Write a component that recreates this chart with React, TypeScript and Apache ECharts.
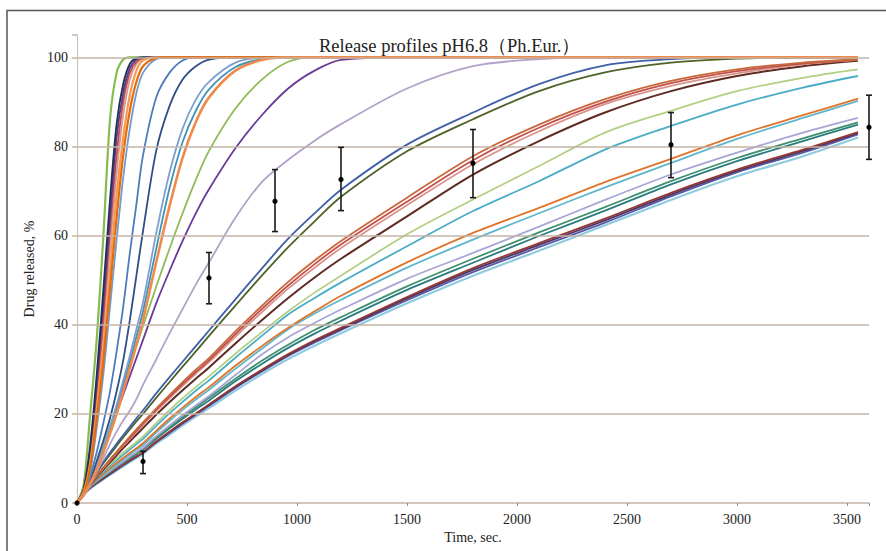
import React, { useEffect, useRef } from "react";
import * as echarts from "echarts";

// Time grid (sec.)
const T = [0, 30, 60, 90, 120, 150, 180, 210, 240, 270, 300, 360, 420, 480, 540, 600, 720, 840, 960, 1080, 1200, 1500, 1800, 2100, 2400, 2700, 3000, 3300, 3550];

// Release profiles (% released at each time of T)
const G1 = [0, 4, 20, 37, 60, 86, 96.5, 99.5, 100, 100, 100, 100, 100, 100, 100, 100, 100, 100, 100, 100, 100, 100, 100, 100, 100, 100, 100, 100, 100];
const C1 = [0, 3, 13, 29, 48, 68, 85, 94, 98.5, 99.8, 100, 100, 100, 100, 100, 100, 100, 100, 100, 100, 100, 100, 100, 100, 100, 100, 100, 100, 100];
const C2 = [0, 3, 12, 27, 45, 64, 82, 92, 97.5, 99.5, 100, 100, 100, 100, 100, 100, 100, 100, 100, 100, 100, 100, 100, 100, 100, 100, 100, 100, 100];
const C3 = [0, 3, 11, 25, 42, 61, 78, 90, 96.5, 99, 99.8, 100, 100, 100, 100, 100, 100, 100, 100, 100, 100, 100, 100, 100, 100, 100, 100, 100, 100];
const C4 = [0, 2.5, 10, 23, 39, 57, 74, 87, 95, 98.5, 99.7, 100, 100, 100, 100, 100, 100, 100, 100, 100, 100, 100, 100, 100, 100, 100, 100, 100, 100];
const C5 = [0, 2.5, 9, 21, 35, 52, 69, 82, 91.5, 97, 99.3, 100, 100, 100, 100, 100, 100, 100, 100, 100, 100, 100, 100, 100, 100, 100, 100, 100, 100];
const C6 = [0, 2, 8, 19, 32, 48, 64, 78, 88, 94.5, 98, 99.8, 100, 100, 100, 100, 100, 100, 100, 100, 100, 100, 100, 100, 100, 100, 100, 100, 100];
const C7 = [0, 2, 7, 17, 29, 44, 59, 73, 84, 92, 96.5, 99.6, 100, 100, 100, 100, 100, 100, 100, 100, 100, 100, 100, 100, 100, 100, 100, 100, 100];
const B1 = [0, 2, 6, 11.5, 18, 25, 34, 44, 56, 67, 78, 91, 96.5, 99.3, 100, 100, 100, 100, 100, 100, 100, 100, 100, 100, 100, 100, 100, 100, 100];
const B2 = [0, 2, 5, 9.5, 14, 19, 25, 32, 41, 51, 61, 79, 89, 95, 98, 99.5, 100, 100, 100, 100, 100, 100, 100, 100, 100, 100, 100, 100, 100];
const B3 = [0, 2, 4.8, 8.5, 12.5, 17, 22, 27.5, 33, 39, 45, 60.5, 74, 84, 90.5, 94.5, 98.8, 99.9, 100, 100, 100, 100, 100, 100, 100, 100, 100, 100, 100];
const B4 = [0, 2, 4.6, 8, 12, 16.3, 21, 26.3, 31.7, 37.3, 43, 57, 70.5, 81, 88, 92.8, 97.8, 99.6, 100, 100, 100, 100, 100, 100, 100, 100, 100, 100, 100];
const O3 = [0, 1.9, 4.4, 7.6, 11.4, 15.5, 20, 25, 30.2, 35.5, 41, 54, 66.5, 77.5, 85.5, 91, 97, 99.4, 100, 100, 100, 100, 100, 100, 100, 100, 100, 100, 100];
const G2 = [0, 2.3, 5.3, 9, 13, 17.3, 21.7, 26.2, 30.7, 35.2, 39.7, 48.5, 57, 65, 72.5, 79, 88.5, 95, 99, 100, 100, 100, 100, 100, 100, 100, 100, 100, 100];
const P1 = [0, 2.2, 5, 8.6, 12.3, 16.2, 20.2, 24.3, 28.4, 32.5, 36.6, 44.8, 52, 58.8, 65, 70.4, 79.6, 87, 93, 97, 99.4, 100, 100, 100, 100, 100, 100, 100, 100];
const M1 = [0, 1.5, 4, 7, 10, 13.2, 16, 18.5, 20.7, 23.3, 26.5, 32.2, 38, 43.5, 49, 54, 64, 72, 77, 81.3, 85, 93, 98, 99.6, 100, 100, 100, 100, 100];
const BL = [0, 2.4, 4.8, 7, 9.2, 11.3, 13.3, 15.2, 17.1, 19, 20.8, 24.6, 28.2, 31.7, 35.2, 38.7, 45.7, 52.6, 59.3, 65, 70.3, 80.4, 87.6, 94, 98.2, 99.6, 100, 100, 100];
const DG = [0, 2.3, 4.6, 6.8, 8.9, 10.9, 12.8, 14.7, 16.5, 18.3, 20, 23.6, 27.1, 30.6, 34, 37.5, 44.3, 51, 57.4, 63.2, 68.7, 78.9, 86.1, 92.4, 96.6, 98.8, 99.7, 100, 100];
const BR1 = [0, 2.2, 4.3, 6.2, 8, 9.8, 11.5, 13.2, 14.9, 16.5, 18.1, 21.2, 24.2, 27.1, 29.9, 32.5, 38.5, 44.2, 49.6, 54.4, 58.8, 68.5, 77.8, 84.9, 90.6, 94.7, 97.3, 98.8, 99.5];
const BR4 = [0, 2.1, 4.2, 6.1, 7.9, 9.6, 11.3, 13, 14.6, 16.2, 17.8, 20.9, 23.8, 26.7, 29.4, 32, 37.9, 43.5, 48.8, 53.6, 58, 67.6, 76.9, 84.2, 90, 94.2, 96.9, 98.6, 99.5];
const BR2 = [0, 2.1, 4.2, 6, 7.8, 9.5, 11.2, 12.8, 14.4, 16, 17.5, 20.6, 23.5, 26.3, 29, 31.6, 37.3, 42.8, 48.1, 52.8, 57.2, 66.8, 76, 83.4, 89.5, 93.6, 96.4, 98.4, 99.4];
const BR3 = [0, 2, 4, 5.8, 7.5, 9.1, 10.7, 12.3, 13.8, 15.3, 16.8, 19.8, 22.6, 25.3, 27.9, 30.4, 35.8, 41, 46, 50.6, 54.8, 64.3, 73.7, 81.2, 87.6, 92.4, 95.8, 98, 99.2];
const LG = [0, 2.1, 4.1, 5.8, 7.3, 8.7, 10, 11.3, 12.5, 13.7, 14.9, 17.9, 20.8, 23.5, 26, 28.4, 33.5, 38.3, 43, 47.2, 51, 60.3, 68.1, 75.6, 83.1, 88, 92.4, 95.4, 97.3];
const T1 = [0, 2.1, 4, 5.6, 7, 8.3, 9.6, 10.8, 12, 13.2, 14.4, 17.3, 20.1, 22.7, 25.2, 27.5, 32.6, 37.5, 42.3, 46, 49.5, 57.6, 65.5, 72.2, 79.3, 84.6, 89.4, 93.2, 95.8];
const OL = [0, 2, 3.9, 5.3, 6.6, 7.8, 9, 10.1, 11.2, 12.3, 13.4, 16.2, 18.9, 21.4, 23.8, 26, 30.8, 35.2, 39.3, 43, 46.5, 54, 60.6, 66.2, 72, 77.2, 82.5, 87, 90.7];
const T2 = [0, 2, 3.8, 5.2, 6.4, 7.6, 8.7, 9.8, 10.9, 12, 13, 15.8, 18.4, 20.9, 23.2, 25.4, 30.1, 34.6, 39, 42.5, 45.6, 52.8, 59.1, 65, 70.8, 76.3, 81.7, 86.4, 90.2];
const LV = [0, 2, 3.7, 5, 6.1, 7.2, 8.3, 9.3, 10.4, 11.4, 12.4, 15, 17.4, 19.7, 21.9, 24, 28.7, 33.3, 37.2, 40.4, 43.4, 50.3, 56.1, 62, 68, 73.7, 78.6, 83.1, 86.4];
const DT2 = [0, 2, 3.6, 4.9, 6, 7.1, 8.2, 9.2, 10.2, 11.2, 12.2, 14.7, 17, 19.3, 21.5, 23.6, 27.9, 31.9, 35.5, 38.8, 41.7, 48.6, 54.8, 60.7, 66.4, 72.2, 77.4, 81.8, 85.4];
const DT = [0, 2, 3.6, 4.8, 5.9, 6.9, 8, 9, 10, 11, 12, 14.4, 16.7, 18.9, 21, 23, 27.3, 31.2, 34.8, 38, 40.9, 47.8, 53.9, 59.9, 65.6, 71.5, 76.7, 81.2, 84.9];
const MR = [0, 1.9, 3.5, 4.6, 5.6, 6.6, 7.6, 8.6, 9.6, 10.5, 11.4, 13.8, 16, 18.1, 20.1, 22.1, 26.2, 29.9, 33.4, 36.5, 39.3, 46.2, 52.7, 58.3, 63.8, 69.6, 74.8, 79.3, 83.2];
const DP = [0, 1.9, 3.4, 4.5, 5.5, 6.5, 7.5, 8.5, 9.5, 10.4, 11.3, 13.7, 15.9, 18, 20, 22, 26, 29.7, 33.2, 36.3, 39, 45.9, 52.3, 57.9, 63.4, 69.2, 74.5, 79, 83];
const PB = [0, 1.9, 3.4, 4.5, 5.5, 6.5, 7.5, 8.5, 9.5, 10.4, 11.3, 13.6, 15.7, 17.8, 19.8, 21.8, 25.8, 29.5, 33, 36, 38.8, 45.5, 51.8, 57.4, 62.9, 68.8, 74.2, 78.6, 82.7];
const LB = [0, 1.8, 3.2, 4.3, 5.3, 6.3, 7.3, 8.2, 9.2, 10.1, 11, 13.3, 15.3, 17.4, 19.4, 21.3, 25.2, 28.9, 32.3, 35.3, 38.1, 44.8, 51, 56.6, 62.3, 68, 73.3, 77.8, 82];

// Mean ± range markers
const EB_T = [0, 300, 600, 900, 1200, 1800, 2700, 3600];
const EB_MEAN = [0, 9.3, 50.5, 67.7, 72.6, 76.2, 80.4, 84.3];
const EB_LOW = [0, 6.6, 44.7, 60.9, 65.6, 68.5, 73.0, 77.1];
const EB_HIGH = [0, 11.6, 56.2, 74.8, 79.8, 83.8, 87.6, 91.5];

const GRID_VALUES = [20, 40, 60, 80, 100];
const X_MAX = 3600;
const Y_MAX = 105;

const CURVES: { d: number[]; c: string; w?: number }[] = [
  { d: G1, c: "#86bb50", w: 2.2 },
  { d: LB, c: "#8fcbe0", w: 2.2 },
  { d: PB, c: "#5a5aa8" },
  { d: DP, c: "#4a3565" },
  { d: MR, c: "#953735" },
  { d: DT, c: "#2a7d7e" },
  { d: DT2, c: "#3f8f70" },
  { d: LV, c: "#a8a6d6" },
  { d: T2, c: "#5fb6cc" },
  { d: OL, c: "#e0742a" },
  { d: T1, c: "#4bacc6" },
  { d: LG, c: "#b3cf84" },
  { d: BR3, c: "#5e2a22", w: 2 },
  { d: BR2, c: "#d9948a" },
  { d: BR4, c: "#c0504d" },
  { d: BR1, c: "#c8683a" },
  { d: DG, c: "#4f6228" },
  { d: BL, c: "#3f5fa8" },
  { d: M1, c: "#b3a2c7" },
  { d: P1, c: "#6a3a98" },
  { d: G2, c: "#8fbb56" },
  { d: B4, c: "#3f93b8" },
  { d: B3, c: "#7c9fcf" },
  { d: B2, c: "#2e4f86" },
  { d: B1, c: "#4f7bbd" },
  { d: C7, c: "#6f9ad2" },
  { d: C4, c: "#d99694" },
  { d: C3, c: "#c0504d" },
  { d: C2, c: "#5b3a82" },
  { d: C1, c: "#1f2f5a" },
  { d: C5, c: "#f59a50", w: 2.2 },
  { d: C6, c: "#e46c0a", w: 2.2 },
  { d: O3, c: "#ef8a4a", w: 2.6 },
];

const SERIF = "'Liberation Serif', 'DejaVu Serif', serif";
const GRID_COLOR = "#c4b3a7";

export default function App() {
  const ref = useRef<HTMLDivElement>(null);
  useEffect(() => {
    document.body.style.margin = "0";
    const chart = echarts.init(ref.current!, null, { renderer: "svg" });

    const lineSeries: any[] = CURVES.map((cv) => ({
      type: "line",
      data: T.map((t, k) => [t, cv.d[k]]),
      showSymbol: false,
      smooth: 0.3,
      lineStyle: { color: cv.c, width: cv.w ?? 1.8 },
      z: 3,
      silent: true,
    }));

    const gridSeries = {
      type: "line",
      data: [],
      silent: true,
      z: 1,
      markLine: {
        silent: true,
        symbol: ["none", "none"],
        label: { show: false },
        lineStyle: { color: GRID_COLOR, width: 1.5, type: "solid" },
        data: GRID_VALUES.map((v) => ({ yAxis: v })),
        animation: false,
      },
    };

    const errorSeries = {
      type: "custom",
      z: 10,
      clip: false,
      silent: true,
      data: EB_T.map((t, i) => [t, EB_LOW[i], EB_HIGH[i], EB_MEAN[i]]),
      encode: { x: 0, y: [1, 2, 3] },
      renderItem: (params: any, api: any) => {
        const x = api.value(0);
        const lo = api.coord([x, api.value(1)]);
        const hi = api.coord([x, api.value(2)]);
        const m = api.coord([x, api.value(3)]);
        const st = { stroke: "#1a1a1a", lineWidth: 1.6 };
        const children: any[] = [];
        if (Math.abs(hi[1] - lo[1]) > 1) {
          children.push(
            { type: "line", shape: { x1: lo[0], y1: lo[1], x2: hi[0], y2: hi[1] }, style: st },
            { type: "line", shape: { x1: lo[0] - 3, y1: lo[1], x2: lo[0] + 3, y2: lo[1] }, style: st },
            { type: "line", shape: { x1: hi[0] - 3, y1: hi[1], x2: hi[0] + 3, y2: hi[1] }, style: st }
          );
        }
        children.push({ type: "circle", shape: { cx: m[0], cy: m[1], r: 2.6 }, style: { fill: "#000" } });
        return { type: "group", children };
      },
    };

    chart.setOption({
      animation: false,
      backgroundColor: "#ffffff",
      title: {
        text: "Release profiles pH6.8（Ph.Eur.）",
        left: 314,
        top: 31,
        textStyle: { fontFamily: SERIF, fontSize: 18.5, fontWeight: "normal", color: "#222" },
      },
      grid: { left: 77, right: 17, top: 35, bottom: 48, containLabel: false },
      xAxis: {
        type: "value",
        min: 0,
        max: X_MAX,
        interval: 500,
        name: "Time, sec.",
        nameLocation: "middle",
        nameGap: 27,
        nameTextStyle: { fontFamily: SERIF, fontSize: 14, color: "#222" },
        axisLine: { show: true, lineStyle: { color: GRID_COLOR, width: 1.5 } },
        axisTick: { show: true, length: 3, lineStyle: { color: "#9a8f88" } },
        axisLabel: {
          fontFamily: SERIF,
          fontSize: 14,
          color: "#222",
          margin: 9,
          formatter: (v: number) => (v > 3500 ? "" : String(v)),
        },
        splitLine: { show: false },
      },
      yAxis: {
        type: "value",
        min: 0,
        max: Y_MAX,
        interval: 20,
        name: "Drug released, %",
        nameLocation: "middle",
        nameGap: 37,
        nameTextStyle: { fontFamily: SERIF, fontSize: 14, color: "#222" },
        axisLine: { show: true, lineStyle: { color: "#c8c2bc", width: 1.2 } },
        axisTick: { show: true, length: 5, lineStyle: { color: GRID_COLOR, width: 1.5 } },
        axisLabel: {
          fontFamily: SERIF,
          fontSize: 14,
          color: "#222",
          margin: 9,
          formatter: (v: number) => (v > 100 ? "" : String(v)),
        },
        splitLine: { show: false },
      },
      graphic: [
        {
          type: "rect",
          silent: true,
          shape: { x: 7, y: 10.5, width: 900, height: 600 },
          style: { fill: "none", stroke: "#555", lineWidth: 1.5 },
          z: 0,
        },
      ],
      series: [gridSeries, ...lineSeries, errorSeries],
    });

    return () => chart.dispose();
  }, []);

  return <div ref={ref} style={{ width: 886, height: 551, position: "absolute", left: 0, top: 0 }} />;
}
